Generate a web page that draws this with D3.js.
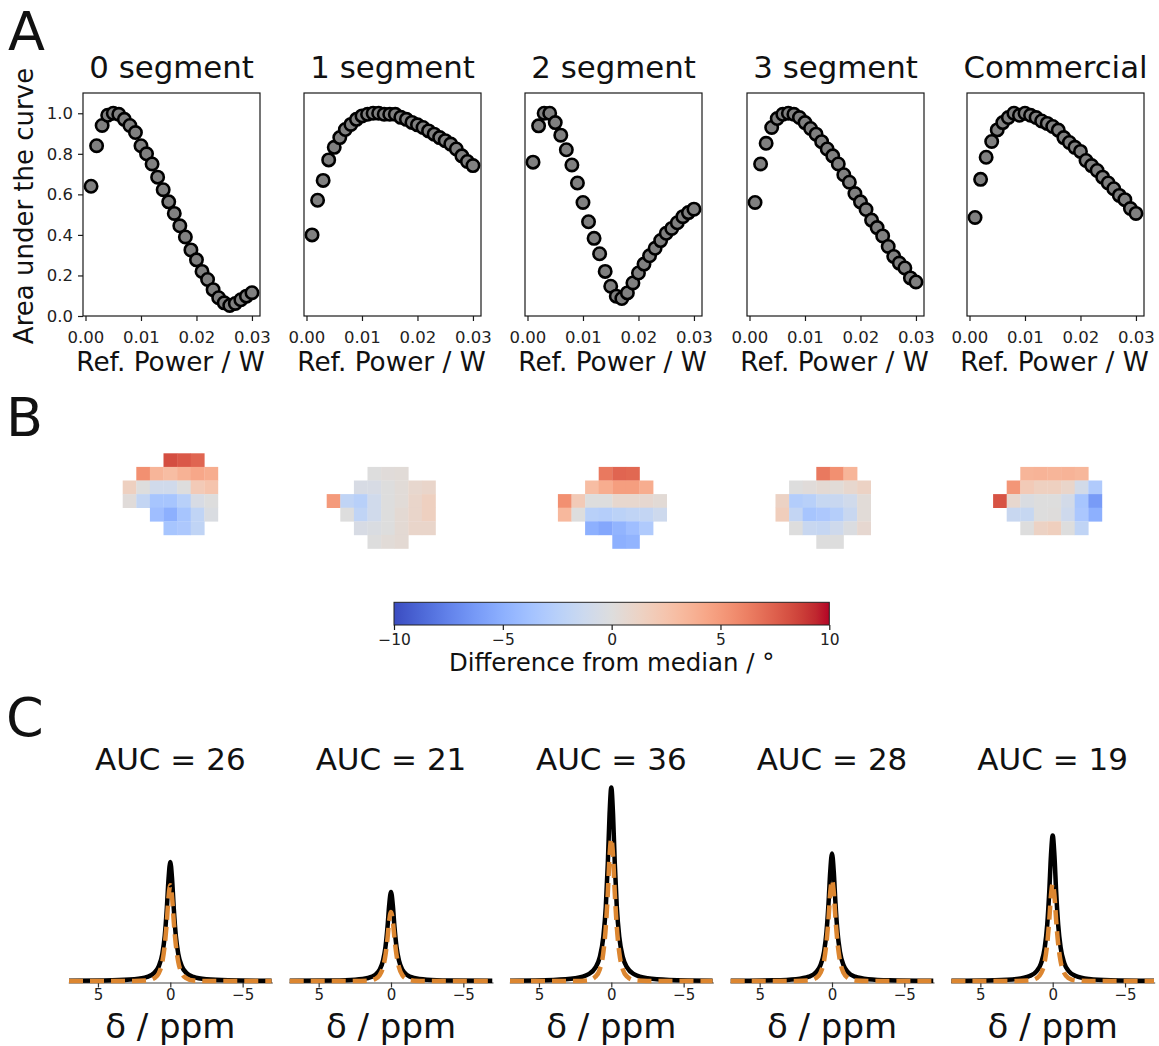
<!DOCTYPE html>
<html><head><meta charset="utf-8">
<script src="https://cdn.jsdelivr.net/npm/d3@7"></script>
<style>body{margin:0;background:#fff} text{font-family:"DejaVu Sans",sans-serif}</style>
</head><body><svg id="c" width="1159" height="1046"></svg>
<script>
// ---------------- DATA ----------------
const panelTitles = ["0 segment", "1 segment", "2 segment", "3 segment", "Commercial"];
const refPower = [0.001,0.002,0.003,0.004,0.005,0.006,0.007,0.008,0.009,0.010,0.011,0.012,0.013,0.014,0.015,0.016,0.017,0.018,0.019,0.020,0.021,0.022,0.023,0.024,0.025,0.026,0.027,0.028,0.029,0.030];
const auc0seg = [0.64,0.84,0.94,0.99,1.00,0.995,0.97,0.94,0.905,0.84,0.80,0.75,0.685,0.623,0.563,0.506,0.445,0.39,0.326,0.277,0.22,0.18,0.13,0.09,0.065,0.052,0.062,0.08,0.098,0.115];
const auc1seg = [0.40,0.571,0.669,0.77,0.832,0.88,0.92,0.945,0.97,0.987,0.995,1.0,1.0,0.995,0.995,0.995,0.98,0.97,0.955,0.943,0.93,0.913,0.897,0.88,0.865,0.848,0.824,0.79,0.762,0.742];
const auc2seg = [0.759,0.938,1.0,1.0,0.954,0.892,0.82,0.745,0.656,0.56,0.465,0.383,0.307,0.22,0.147,0.098,0.086,0.114,0.163,0.212,0.256,0.297,0.334,0.372,0.408,0.432,0.46,0.49,0.51,0.527];
const auc3seg = [0.56,0.75,0.852,0.93,0.974,0.995,1.0,0.995,0.979,0.954,0.925,0.897,0.86,0.824,0.79,0.75,0.697,0.66,0.604,0.563,0.525,0.473,0.436,0.395,0.343,0.294,0.261,0.237,0.188,0.168];
const aucCommercial = [0.486,0.674,0.783,0.861,0.918,0.954,0.979,1.0,0.99,1.0,0.99,0.979,0.962,0.95,0.935,0.917,0.88,0.856,0.832,0.812,0.767,0.742,0.718,0.685,0.656,0.628,0.595,0.574,0.53,0.506];
const aucSeries = [auc0seg, auc1seg, auc2seg, auc3seg, aucCommercial];
const xTicksA = [0, 0.01, 0.02, 0.03];
const yTicksA = [0, 0.2, 0.4, 0.6, 0.8, 1.0];

// Panel B: flip-angle difference maps (degrees), null = outside mask
const _ = null;
const map0seg = [
  [_,_,_,_,8.2,7.8,7.3,_,_],
  [_,_,5.5,3.5,3.0,3.7,4.3,4.0,_],
  [_,1.5,0.0,-1.0,-1.0,0.0,2.0,2.5,_],
  [_,0.2,-1.8,-3.5,-3.5,-2.5,-0.5,0.0,_],
  [_,_,_,-4.0,-5.0,-3.5,-2.0,-0.3,_],
  [_,_,_,_,-3.5,-3.2,-2.0,_,_],
  [_,_,_,_,_,_,_,_,_]];
const map1seg = [
  [_,_,_,_,_,_,_,_,_],
  [_,_,_,0.0,0.2,0.3,_,_,_],
  [_,_,-0.5,-0.5,0.0,0.3,0.8,1.0,_],
  [5.0,-2.0,-2.5,-1.0,0.0,0.3,1.0,1.5,_],
  [_,0.0,-2.0,-1.0,0.0,0.5,1.0,1.5,_],
  [_,_,-0.5,-0.3,0.0,0.5,1.0,1.0,_],
  [_,_,_,0.0,0.3,0.5,_,_,_]];
const map2seg = [
  [_,_,_,_,_,_,_,_,_],
  [_,_,_,_,6.5,7.3,7.2,_,_],
  [_,_,_,3.0,4.0,4.8,4.8,4.0,_],
  [_,5.5,2.0,0.0,0.0,0.8,0.8,0.7,0.4],
  [_,3.3,0.0,-2.5,-2.7,-2.3,-2.0,-1.8,-1.2],
  [_,_,_,-5.0,-5.5,-4.7,-4.0,-3.0,_],
  [_,_,_,_,_,-5.0,-4.7,_,_]];
const map3seg = [
  [_,_,_,_,_,_,_,_,_],
  [_,_,_,_,6.5,5.5,3.5,_,_],
  [_,_,0.0,0.2,0.5,0.3,0.8,1.3,_],
  [_,1.3,-2.8,-2.5,-1.6,-1.5,-1.0,0.3,_],
  [_,1.7,-1.8,-3.5,-3.2,-2.7,-1.5,0.3,_],
  [_,_,0.0,-1.5,-1.7,-1.1,-0.2,0.7,_],
  [_,_,_,_,0.0,0.0,_,_,_]];
const mapCommercial = [
  [_,_,_,_,_,_,_,_,_],
  [_,_,_,3.5,3.6,3.5,3.6,3.4,_],
  [_,_,5.2,2.0,1.5,1.5,1.0,-0.8,-3.0],
  [_,8.0,0.8,-0.3,0.0,0.0,-0.8,-3.5,-6.2],
  [_,_,-1.5,-1.6,0.0,0.1,-1.1,-3.3,-5.0],
  [_,_,_,0.0,1.3,1.6,0.0,-2.0,_],
  [_,_,_,_,_,_,_,_,_]];
const maps = [map0seg, map1seg, map2seg, map3seg, mapCommercial];
const cbarTicks = [-10, -5, 0, 5, 10];
const cbarLabel = "Difference from median / °";

// Panel C: spectra (chemical shift in ppm, intensity a.u.)
const aucValues = [26, 21, 36, 28, 19];
const ppm = [7,4,2.5,1.6,1.1,0.8,0.55,0.38,0.24,0.12,0,-0.12,-0.24,-0.38,-0.55,-0.8,-1.1,-1.6,-2.5,-4,-7];
const spec0 = [0.0011,0.0033,0.0084,0.0202,0.0411,0.0732,0.136,0.228,0.363,0.513,0.595,0.513,0.363,0.228,0.136,0.0732,0.0411,0.0202,0.0084,0.0033,0.0011];
const spec1 = [0.0008,0.0025,0.0063,0.0151,0.0307,0.0547,0.102,0.171,0.271,0.384,0.445,0.384,0.271,0.171,0.102,0.0547,0.0307,0.0151,0.0063,0.0025,0.0008];
const spec2 = [0.0017,0.0054,0.0137,0.0329,0.0667,0.119,0.221,0.371,0.590,0.834,0.967,0.834,0.590,0.371,0.221,0.119,0.0667,0.0329,0.0137,0.0054,0.0017];
const spec3 = [0.0011,0.0036,0.0090,0.0217,0.0440,0.0784,0.146,0.245,0.389,0.549,0.637,0.549,0.389,0.245,0.146,0.0784,0.0440,0.0217,0.0090,0.0036,0.0011];
const spec4 = [0.0013,0.0041,0.0103,0.0248,0.0502,0.0895,0.167,0.280,0.444,0.628,0.728,0.628,0.444,0.280,0.167,0.0895,0.0502,0.0248,0.0103,0.0041,0.0013];
const fit0 = [0,0,0,0.0024,0.0144,0.0383,0.0958,0.182,0.297,0.422,0.479,0.422,0.297,0.182,0.0958,0.0383,0.0144,0.0024,0,0,0];
const fit1 = [0,0,0,0.0017,0.0104,0.0276,0.069,0.131,0.214,0.304,0.345,0.304,0.214,0.131,0.069,0.0276,0.0104,0.0017,0,0,0];
const fit2 = [0,0,0,0.0036,0.0214,0.057,0.142,0.271,0.441,0.627,0.712,0.627,0.441,0.271,0.142,0.057,0.0214,0.0036,0,0,0];
const fit3 = [0,0,0,0.0025,0.0151,0.0403,0.101,0.192,0.312,0.444,0.504,0.444,0.312,0.192,0.101,0.0403,0.0151,0.0025,0,0,0];
const fit4 = [0,0,0,0.0024,0.0146,0.039,0.097,0.185,0.302,0.429,0.487,0.429,0.302,0.185,0.097,0.039,0.0146,0.0024,0,0,0];
const spectra = [spec0, spec1, spec2, spec3, spec4];
const fits = [fit0, fit1, fit2, fit3, fit4];
const xTicksC = [5, 0, -5];

// ---------------- DRAW ----------------
const svg = d3.select("#c");
const FONT = '"DejaVu Sans", sans-serif';
const ink = "#1a1a1a";

function styleAxis(g, color, fs) {
  g.selectAll("text").attr("fill", color).style("font-size", fs + "px").style("font-family", FONT);
  g.selectAll("line").attr("stroke", ink).attr("stroke-width", 1.2);
  g.select(".domain").remove();
}

// Panel letters
[["A", 8, 50], ["B", 6, 436], ["C", 6, 736]].forEach(([t, x, y]) =>
  svg.append("text").attr("x", x).attr("y", y).text(t).style("font-size", "54px").attr("fill", "#111"));

// ---- Panel A
const aLefts = [83, 304, 525, 747, 967];
const aW = 177, aTop = 93, aBot = 316;
const xA = d3.scaleLinear().domain([-0.00045, 0.03145]);
const yA = d3.scaleLinear().domain([0, 1.1]).range([aBot, aTop]);

aucSeries.forEach((vals, k) => {
  const g = svg.append("g").attr("transform", `translate(${aLefts[k]},0)`);
  const x = xA.copy().range([0, aW]);
  g.selectAll("circle").data(vals).join("circle")
    .attr("cx", (d, i) => x(refPower[i])).attr("cy", d => yA(d))
    .attr("r", 6.2).attr("fill", "#808080").attr("stroke", "#000").attr("stroke-width", 2.6);
  g.append("rect").attr("x", 0).attr("y", aTop).attr("width", aW).attr("height", aBot - aTop)
    .attr("fill", "none").attr("stroke", ink).attr("stroke-width", 1.2);
  const gx = g.append("g").attr("transform", `translate(0,${aBot})`)
    .call(d3.axisBottom(x).tickValues(xTicksA).tickFormat(d3.format(".2f")).tickSize(5).tickPadding(10));
  styleAxis(gx, "#222", 16.5);
  if (k === 0) {
    const gy = g.append("g").call(d3.axisLeft(yA).tickValues(yTicksA).tickFormat(d3.format(".1f")).tickSize(5).tickPadding(5));
    styleAxis(gy, "#222", 16.5);
  }
  g.append("text").attr("x", aW / 2).attr("y", 78).attr("text-anchor", "middle")
    .style("font-size", "30.8px").attr("fill", "#111").text(panelTitles[k]);
  g.append("text").attr("x", aW / 2 - 1).attr("y", 371).attr("text-anchor", "middle")
    .style("font-size", "26.3px").attr("fill", "#111").text("Ref. Power / W");
});
svg.append("text").attr("transform", "translate(33,206) rotate(-90)").attr("text-anchor", "middle")
  .style("font-size", "26px").attr("fill", "#111").text("Area under the curve");

// ---- Panel B
const cw = [[59,76,192],[68,90,204],[77,104,215],[87,117,225],[98,130,234],[108,142,241],[119,154,247],[130,165,251],[141,176,254],[152,185,255],[163,194,255],[174,201,253],[184,208,249],[194,213,244],[204,217,238],[213,219,230],[221,221,221],[229,216,209],[236,211,197],[241,204,185],[245,196,173],[247,187,160],[247,177,148],[247,166,135],[244,154,123],[241,141,111],[236,127,99],[229,112,88],[222,96,77],[213,80,66],[203,62,56],[192,40,47],[180,4,38]].map(c => d3.rgb(...c));
const coolwarm = d3.piecewise(d3.interpolateRgb, cw);
const colorB = d3.scaleSequential(coolwarm).domain([-10, 10]);
const cell = 13.6;
const bLeft0 = 109.1, bStep = 217.6, bTop = 453.3;
maps.forEach((m, k) => {
  const nC = m[0].length, nR = m.length;
  const xs = d3.scaleBand().domain(d3.range(nC)).range([bLeft0 + k * bStep, bLeft0 + k * bStep + nC * cell]);
  const ys = d3.scaleBand().domain(d3.range(nR)).range([bTop, bTop + nR * cell]);
  const cells = [];
  m.forEach((row, r) => row.forEach((v, c) => { if (v !== null) cells.push({ r, c, v }); }));
  svg.append("g").selectAll("rect").data(cells).join("rect")
    .attr("x", d => xs(d.c)).attr("y", d => ys(d.r))
    .attr("width", xs.bandwidth() + 0.3).attr("height", ys.bandwidth() + 0.3)
    .attr("fill", d => colorB(d.v));
});
// colorbar
const cbX0 = 394, cbX1 = 829.3, cbY0 = 602.3, cbY1 = 625;
const defs = svg.append("defs");
const grad = defs.append("linearGradient").attr("id", "cwgrad");
cw.forEach((c, i) => grad.append("stop").attr("offset", (i / (cw.length - 1) * 100) + "%").attr("stop-color", c.formatHex()));
svg.append("rect").attr("x", cbX0).attr("y", cbY0).attr("width", cbX1 - cbX0).attr("height", cbY1 - cbY0)
  .attr("fill", "url(#cwgrad)").attr("stroke", "#222").attr("stroke-width", 1);
const xCb = d3.scaleLinear().domain([-10, 10]).range([cbX0, cbX1]);
const gcb = svg.append("g").attr("transform", `translate(0,${cbY1})`)
  .call(d3.axisBottom(xCb).tickValues(cbarTicks).tickSize(5).tickPadding(4));
styleAxis(gcb, "#222", 15.5);
svg.append("text").attr("x", (cbX0 + cbX1) / 2).attr("y", 671).attr("text-anchor", "middle")
  .style("font-size", "24.4px").attr("fill", "#111").text(cbarLabel);

// ---- Panel C
const cLefts = [68.3, 289, 509.3, 730, 950.7];
const cW = 204, cBase = 981;
const yC = d3.scaleLinear().domain([0, 1]).range([cBase, cBase - 200]);
spectra.forEach((s, k) => {
  const g = svg.append("g").attr("transform", `translate(${cLefts[k]},0)`);
  const x = d3.scaleLinear().domain([7.05, -7.05]).range([0, cW]);
  const line = d3.line().x((d, i) => x(ppm[i])).y(d => yC(d)).curve(d3.curveMonotoneX);
  const gx = g.append("g").attr("transform", `translate(0,${cBase + 1.5})`)
    .call(d3.axisBottom(x).tickValues(xTicksC).tickFormat(d3.format("d")).tickSize(5).tickPadding(2).tickSizeOuter(0));
  gx.selectAll("text").attr("fill", "#222").style("font-size", "15px").style("font-family", FONT);
  gx.selectAll("line").attr("stroke", "#333").attr("stroke-width", 1.2);
  gx.select(".domain").attr("stroke", "#444").attr("stroke-width", 1.2);
  g.append("path").datum(s).attr("d", line).attr("fill", "none").attr("stroke", "#000").attr("stroke-width", 4.5).attr("stroke-linejoin", "round");
  g.append("path").datum(fits[k]).attr("d", line).attr("fill", "none").attr("stroke", "#dc8630").attr("stroke-width", 4.5).attr("stroke-dasharray", "14,7");
  g.append("text").attr("x", x(0)).attr("y", 770).attr("text-anchor", "middle")
    .style("font-size", "31px").attr("fill", "#111").text("AUC = " + aucValues[k]);
  g.append("text").attr("x", x(0)).attr("y", 1038).attr("text-anchor", "middle")
    .style("font-size", "34px").attr("fill", "#111").text("δ / ppm");
});
</script></body></html>
